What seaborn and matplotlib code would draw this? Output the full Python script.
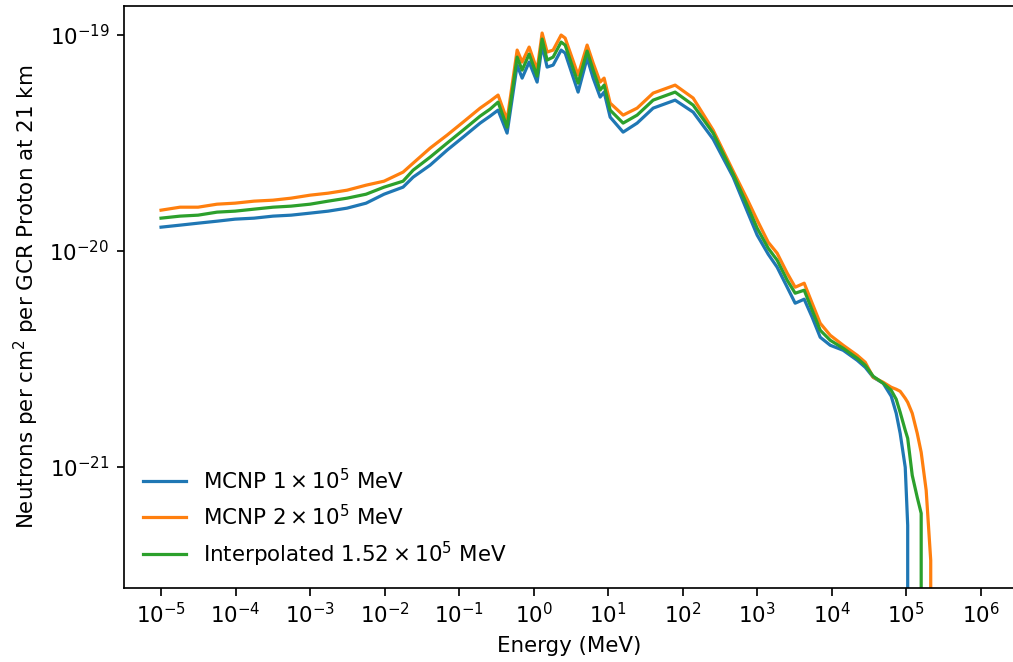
import numpy as np
import pandas as pd
import matplotlib
matplotlib.use("Agg")
import matplotlib.pyplot as plt
from matplotlib.ticker import FixedLocator, LogFormatterSciNotation, NullLocator
import seaborn as sns

# Energy grid, log10(E / MeV)
log_energy = [
    -5.000, -4.745, -4.503, -4.248, -4.007, -3.752, -3.497, -3.255, -3.000, -2.758,
    -2.503, -2.248, -2.007, -1.752, -1.617, -1.389, -1.161, -0.946, -0.718, -0.584,
    -0.477, -0.356, -0.221, -0.154, -0.060, 0.047, 0.114, 0.181, 0.262, 0.369,
    0.423, 0.597, 0.718, 0.799, 0.893, 0.946, 1.027, 1.201, 1.389, 1.604,
    1.899, 2.141, 2.409, 2.678, 2.866, 3.000, 3.148, 3.268, 3.403, 3.510,
    3.631, 3.738, 3.846, 3.980, 4.154, 4.342, 4.450, 4.557, 4.691, 4.799,
    4.866, 4.919, 4.987, 5.020, 5.081, 5.148, 5.201, 5.268, 5.329, 5.389,
]

# Neutron fluence per cm^2 per GCR proton, in units of 1e-21
flux_1e5 = [
    12.88, 13.16, 13.44, 13.73, 14.03, 14.18, 14.49, 14.64, 14.96, 15.28,
    15.78, 16.64, 18.31, 19.74, 21.96, 24.96, 29.30, 33.66, 39.09, 42.12,
    44.90, 35.13, 72.59, 63.18, 74.96, 60.54, 89.87, 71.06, 72.59, 85.20,
    82.52, 54.42, 78.23, 63.18, 51.60, 54.42, 41.67, 35.50, 39.09, 45.86,
    49.95, 43.95, 32.95, 21.96, 15.28, 11.83, 9.654, 8.403, 6.787, 5.722,
    5.972, 4.928, 3.980, 3.654, 3.464, 3.113, 2.889, 2.597, 2.436, 2.121,
    1.768, 1.428, 0.9936, 0.5350, 0.0, 0.0, 0.0, 0.0, 0.0, 0.0,
]

flux_2e5 = [
    15.44, 15.94, 15.94, 16.46, 16.64, 17.00, 17.18, 17.55, 18.12, 18.51,
    19.11, 20.16, 21.04, 23.17, 25.50, 29.93, 34.39, 39.51, 45.86, 49.42,
    52.72, 40.36, 85.20, 74.96, 87.97, 68.82, 102.2, 83.40, 85.20, 100.0,
    96.85, 65.24, 89.87, 74.16, 60.54, 63.18, 48.38, 42.57, 45.86, 53.84,
    58.63, 51.06, 36.27, 23.42, 17.36, 13.88, 10.97, 9.757, 7.883, 6.787,
    7.083, 5.722, 4.621, 4.066, 3.654, 3.284, 3.048, 2.597, 2.462, 2.334,
    2.285, 2.236, 2.075, 1.988, 1.768, 1.428, 1.166, 0.7773, 0.3683, 0.0,
]

flux_interp = [
    14.18, 14.49, 14.64, 15.12, 15.28, 15.61, 15.94, 16.12, 16.46, 17.00,
    17.55, 18.31, 19.74, 21.04, 23.66, 27.19, 31.57, 36.27, 42.12, 45.38,
    48.90, 37.45, 79.07, 68.82, 81.64, 64.54, 95.82, 76.57, 79.07, 92.80,
    89.87, 59.90, 84.29, 68.82, 55.59, 58.63, 44.90, 39.09, 42.57, 49.95,
    54.42, 47.36, 35.13, 22.68, 16.29, 12.74, 10.29, 9.055, 7.313, 6.366,
    6.573, 5.310, 4.289, 3.854, 3.539, 3.180, 2.952, 2.625, 2.436, 2.260,
    2.053, 1.787, 1.475, 1.354, 0.9123, 0.7213, 0.6080, 0.0, 0.0, 0.0,
]

series_labels = [
    r"MCNP $1 \times 10^5$ MeV",
    r"MCNP $2 \times 10^5$ MeV",
    r"Interpolated $1.52 \times 10^5$ MeV",
]
series_colors = ["#1f77b4", "#ff7f0e", "#2ca02c"]
unit = 1e-21

# Decade ticks shown on each axis
x_tick_exponents = list(range(-5, 7))
y_tick_exponents = [-21, -20, -19]

plt.rcParams.update({
    "font.size": 10.7,
    "axes.linewidth": 0.85,
    "xtick.major.size": 3.75,
    "ytick.major.size": 3.75,
    "xtick.major.width": 0.85,
    "ytick.major.width": 0.85,
})

energy = np.power(10.0, log_energy)
frames = []
for label, values in zip(series_labels, [flux_1e5, flux_2e5, flux_interp]):
    frames.append(pd.DataFrame({
        "Energy": energy,
        "Flux": np.asarray(values) * unit,
        "Source": label,
    }))
data = pd.concat(frames, ignore_index=True)

fig = plt.figure(figsize=(1013 / 144, 662 / 144), dpi=144)
ax = fig.add_axes([124 / 1013, 1 - 588 / 662, 891 / 1013, 582.5 / 662])

sns.lineplot(
    data=data, x="Energy", y="Flux", hue="Source",
    hue_order=series_labels, palette=series_colors,
    estimator=None, sort=False, linewidth=1.6, ax=ax,
)

ax.set_xscale("log")
ax.set_yscale("log")
ax.set_xlim(10 ** -5.497, 10 ** 6.46)
ax.set_ylim(10 ** -21.562, 10 ** -18.863)
ax.xaxis.set_major_locator(FixedLocator([10.0 ** k for k in x_tick_exponents]))
ax.yaxis.set_major_locator(FixedLocator([10.0 ** k for k in y_tick_exponents]))
ax.xaxis.set_major_formatter(LogFormatterSciNotation())
ax.yaxis.set_major_formatter(LogFormatterSciNotation())
ax.xaxis.set_minor_locator(NullLocator())
ax.yaxis.set_minor_locator(NullLocator())

ax.set_xlabel("Energy (MeV)")
ax.set_ylabel(r"Neutrons per cm$^2$ per GCR Proton at 21 km")

handles, labels = ax.get_legend_handles_labels()
ax.legend(handles, labels, loc="lower left", frameon=False)

fig.savefig("out.png", dpi=144)
